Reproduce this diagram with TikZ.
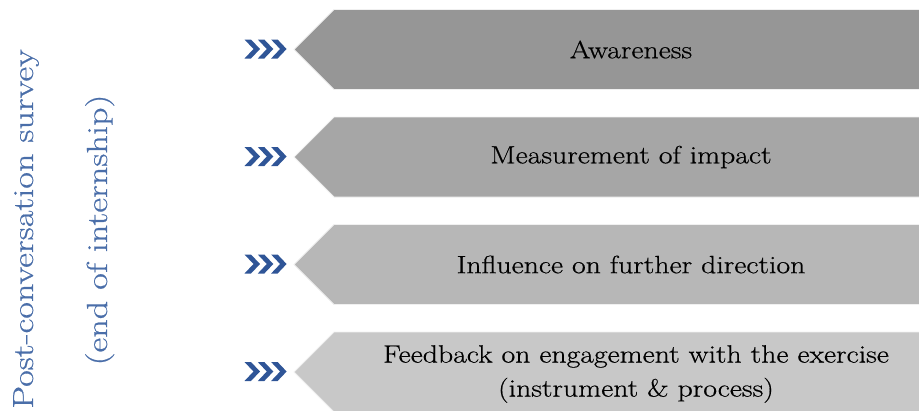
\documentclass[tikz,border=0pt]{standalone}
\usepackage{fontspec}
\setmainfont{Latin Modern Roman}[FakeStretch=1.19,FakeBold=0.6]
\newfontfamily\sidefont{Latin Modern Roman}[FakeStretch=1.25,FakeBold=0.6]
\definecolor{chevblue}{HTML}{2F5597}
\definecolor{sidetext}{HTML}{4A6EA9}
\definecolor{gA}{HTML}{969696}
\definecolor{gB}{HTML}{A6A6A6}
\definecolor{gC}{HTML}{B7B7B7}
\definecolor{gD}{HTML}{C8C8C8}
\tikzset{
  chev/.pic={\fill[chevblue] (0,-9.5)--(6.5,-9.5)--(15.5,0)--(6.5,9.5)--(0,9.5)--(9,0)--cycle;},
  boxtext/.style={inner sep=0pt, align=center, font=\fontsize{25}{34}\selectfont, text=black},
  sidelabel/.style={rotate=90, anchor=base, inner sep=0pt, font=\sidefont\fontsize{29}{34}\selectfont, text=sidetext},
  arrowbox/.style={draw=white!88!gray, line width=0.8pt}
}
\begin{document}
\begin{tikzpicture}[x=1pt,y=-1pt]
\useasboundingbox (0,0) rectangle (919,410);
\foreach \yc/\col in {49.5/gA,157/gB,264.5/gC,372/gD}{
  \path[fill=\col,arrowbox] (294,\yc) -- (334,\yc-40) -- (930,\yc-40) -- (930,\yc+40) -- (334,\yc+40) -- cycle;
  \pic at (244.5,\yc-0.5) {chev};
  \pic at (257.8,\yc-0.5) {chev};
  \pic at (271.1,\yc-0.5) {chev};
}
\node[boxtext] (a1) at (631,49.5) {Awareness};
\node[boxtext] (a2) at (631,157) {Measurement of impact};
\node[boxtext] (a3) at (631,264.5) {Influence on further direction};
\node[boxtext] (a4) at (636,374) {Feedback on engagement with the exercise\\(instrument \& process)};
\node[sidelabel] (l1) at (33,229) {Post-conversation survey};
\node[sidelabel] (l2) at (107,230) {(end of internship)};
\end{tikzpicture}
\end{document}
